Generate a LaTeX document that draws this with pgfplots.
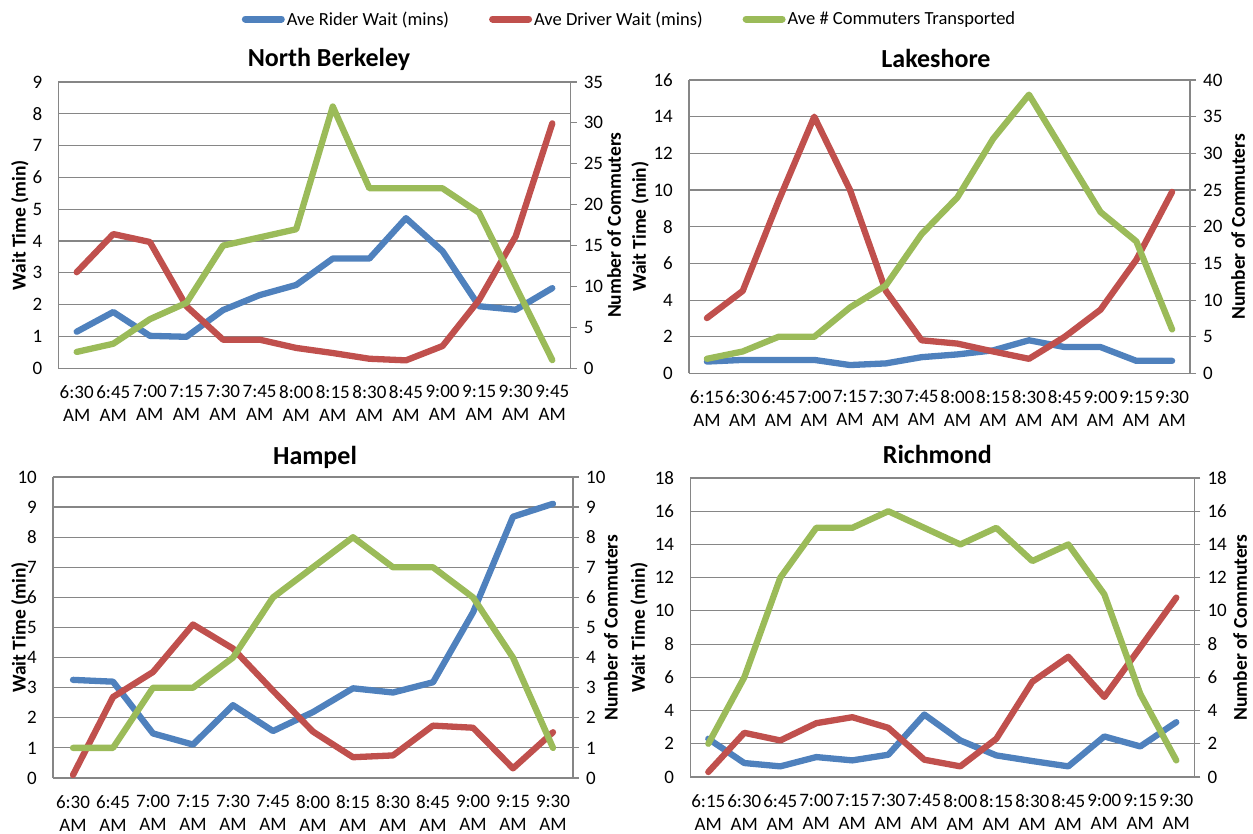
\documentclass[border=0pt]{standalone}
\usepackage{fontspec}
\setmainfont{Carlito}
\usepackage{pgfplots}
\usepackage{pgfplotstable}
\pgfplotsset{compat=1.18}
\definecolor{cblue}{HTML}{4F81BD}
\definecolor{cred}{HTML}{C0504D}
\definecolor{cgreen}{HTML}{9BBB59}
\definecolor{cgrid}{HTML}{868686}

\pgfplotstableread{
x rider driver comm
0 1.15 3.02 2
1 1.77 4.22 3
2 1.02 3.97 6
3 0.99 1.95 8
4 1.83 0.90 15
5 2.30 0.90 16
6 2.62 0.64 17
7 3.45 0.48 32
8 3.45 0.30 22
9 4.72 0.25 22
10 3.68 0.70 22
11 1.95 2.15 19
12 1.84 4.15 10
13 2.52 7.70 1
}\nb
\pgfplotstableread{
x rider driver comm
0 0.65 3.02 2
1 0.74 4.50 3
2 0.74 9.40 5
3 0.74 14.0 5
4 0.46 10.0 9
5 0.55 4.50 12
6 0.89 1.81 19
7 1.04 1.63 24
8 1.26 1.20 32
9 1.81 0.80 38
10 1.44 2.00 30
11 1.44 3.48 22
12 0.69 6.20 18
13 0.69 9.90 6
}\ls
\pgfplotstableread{
x rider driver comm
0 3.26 0.10 1
1 3.20 2.69 1
2 1.48 3.52 3
3 1.11 5.10 3
4 2.42 4.30 4
5 1.56 2.90 6
6 2.19 1.54 7
7 2.98 0.69 8
8 2.84 0.75 7
9 3.18 1.74 7
10 5.50 1.67 6
11 8.68 0.32 4
12 9.11 1.52 1
}\hp
\pgfplotstableread{
x rider driver comm
0 2.30 0.30 2
1 0.84 2.66 6
2 0.64 2.20 12
3 1.20 3.24 15
4 1.00 3.60 15
5 1.34 2.96 16
6 3.76 1.04 15
7 2.20 0.64 14
8 1.30 2.30 15
9 0.96 5.73 13
10 0.64 7.24 14
11 2.44 4.82 11
12 1.84 7.80 5
13 3.30 10.80 1
}\rc

\pgfplotsset{
  base/.style={scale only axis, anchor=south west, clip=false,
    xmin=-0.5,
    axis line style={draw=cgrid, line width=1.2pt},
    /pgf/number format/assume math mode=true,
    tick label style={font=\fontsize{19}{23}\selectfont, text=black},
    label style={font=\bfseries\fontsize{19.5}{23}\selectfont},
  },
  leftax/.style={base, axis x line*=bottom, axis y line*=left,
    ymajorgrids, grid style={draw=cgrid, line width=1.2pt},
    xtick={0,...,13}, xtick style={draw=none}, ytick style={draw=none},
    xticklabel style={align=center, anchor=north, inner sep=0pt, yshift=-17pt},
    yticklabel style={anchor=east, inner sep=0pt, xshift=-16pt},
    title style={font=\bfseries\fontsize{26}{30}\selectfont, anchor=base, at={(axis description cs:0.5,1)}},
    ylabel={Wait Time (min)},
  },
  rightax/.style={base, axis x line=none, axis y line*=right,
    ytick style={draw=cgrid, line width=1.2pt}, tick align=outside, major tick length=6pt,
    yticklabel style={anchor=west, inner sep=0pt, xshift=7pt},
    ylabel={Number of Commuters},
  },
  ser/.style={line width=6.3pt, line cap=round, line join=round},
}
\def\labsA{{6:30\\AM},{6:45\\AM},{7:00\\AM},{7:15\\AM},{7:30\\AM},{7:45\\AM},{8:00\\AM},{8:15\\AM},{8:30\\AM},{8:45\\AM},{9:00\\AM},{9:15\\AM},{9:30\\AM},{9:45\\AM}}
\def\labsB{{6:15\\AM},{6:30\\AM},{6:45\\AM},{7:00\\AM},{7:15\\AM},{7:30\\AM},{7:45\\AM},{8:00\\AM},{8:15\\AM},{8:30\\AM},{8:45\\AM},{9:00\\AM},{9:15\\AM},{9:30\\AM}}

\begin{document}
\begin{tikzpicture}
\path[use as bounding box] (0,0) rectangle (1253pt,834pt);

% North Berkeley
\begin{axis}[leftax, at={(58.4pt,465.7pt)}, width=512.2pt, height=286.3pt,
  xmax=13.5, ymin=0, ymax=9, ytick={0,...,9},
  xticklabels/.expanded=\labsA,
  title={North Berkeley}, title style={xshift=14.5pt, yshift=9pt},
  ylabel style={at={(axis description cs:-0.075,0.5)}, anchor=center},
  legend style={at={(axis description cs:1.115,1.22)}, anchor=center, draw=none, fill=none,
    legend columns=3, font=\fontsize{18.5}{22}\selectfont,
    /tikz/every even column/.append style={column sep=38pt}},
  legend image code/.code={\draw[#1, line width=7pt, line cap=round] (0pt,0pt) -- (36pt,0pt);},
  ]
\addplot[ser, cblue] table[x=x, y=rider] {\nb};
\addlegendentry{Ave Rider Wait (mins)}
\addplot[ser, cred] table[x=x, y=driver] {\nb};
\addlegendentry{Ave Driver Wait (mins)}
\addlegendimage{ser, cgreen}
\addlegendentry{Ave \# Commuters Transported}
\end{axis}
\begin{axis}[rightax, at={(58.4pt,465.7pt)}, width=512.2pt, height=286.3pt,
  xmax=13.5, ymin=0, ymax=35, ytick={0,5,...,35},
  ylabel style={at={(axis description cs:1.0847,0.5)}, anchor=center}]
\addplot[ser, cgreen] table[x=x, y=comm] {\nb};
\end{axis}

% Lakeshore
\begin{axis}[leftax, at={(689pt,460.5pt)}, width=501pt, height=293.5pt,
  xmax=13.5, ymin=0, ymax=16, ytick={0,2,...,16},
  xticklabels/.expanded=\labsB,
  title={Lakeshore}, title style={xshift=-3.5pt, yshift=6pt},
  ylabel style={at={(axis description cs:-0.0978,0.5)}, anchor=center}]
\addplot[ser, cblue] table[x=x, y=rider] {\ls};
\addplot[ser, cred] table[x=x, y=driver] {\ls};
\end{axis}
\begin{axis}[rightax, at={(689pt,460.5pt)}, width=501pt, height=293.5pt,
  xmax=13.5, ymin=0, ymax=40, ytick={0,5,...,40},
  ylabel style={at={(axis description cs:1.0958,0.5)}, anchor=center}]
\addplot[ser, cgreen] table[x=x, y=comm] {\ls};
\end{axis}

% Hampel
\begin{axis}[leftax, at={(53pt,56pt)}, width=520pt, height=301pt,
  xmax=12.5, ymin=0, ymax=10, ytick={0,...,10}, xtick={0,...,12},
  xticklabels/.expanded=\labsA,
  title={Hampel}, title style={xshift=2pt, yshift=6pt},
  ylabel style={at={(axis description cs:-0.0635,0.5)}, anchor=center}]
\addplot[ser, cblue] table[x=x, y=rider] {\hp};
\addplot[ser, cred] table[x=x, y=driver] {\hp};
\end{axis}
\begin{axis}[rightax, at={(53pt,56pt)}, width=520pt, height=301pt,
  xmax=12.5, ymin=0, ymax=10, ytick={0,...,10},
  ylabel style={at={(axis description cs:1.073,0.5)}, anchor=center}]
\addplot[ser, cgreen] table[x=x, y=comm] {\hp};
\end{axis}

% Richmond
\begin{axis}[leftax, at={(690.3pt,57pt)}, width=504pt, height=299pt,
  xmax=13.5, ymin=0, ymax=18, ytick={0,2,...,18},
  xticklabels/.expanded=\labsB,
  title={Richmond}, title style={xshift=-5pt, yshift=8pt},
  ylabel style={at={(axis description cs:-0.1018,0.5)}, anchor=center}]
\addplot[ser, cblue] table[x=x, y=rider] {\rc};
\addplot[ser, cred] table[x=x, y=driver] {\rc};
\end{axis}
\begin{axis}[rightax, at={(690.3pt,57pt)}, width=504pt, height=299pt,
  xmax=13.5, ymin=0, ymax=18, ytick={0,2,...,18},
  ylabel style={at={(axis description cs:1.0907,0.5)}, anchor=center}]
\addplot[ser, cgreen] table[x=x, y=comm] {\rc};
\end{axis}
\end{tikzpicture}
\end{document}
